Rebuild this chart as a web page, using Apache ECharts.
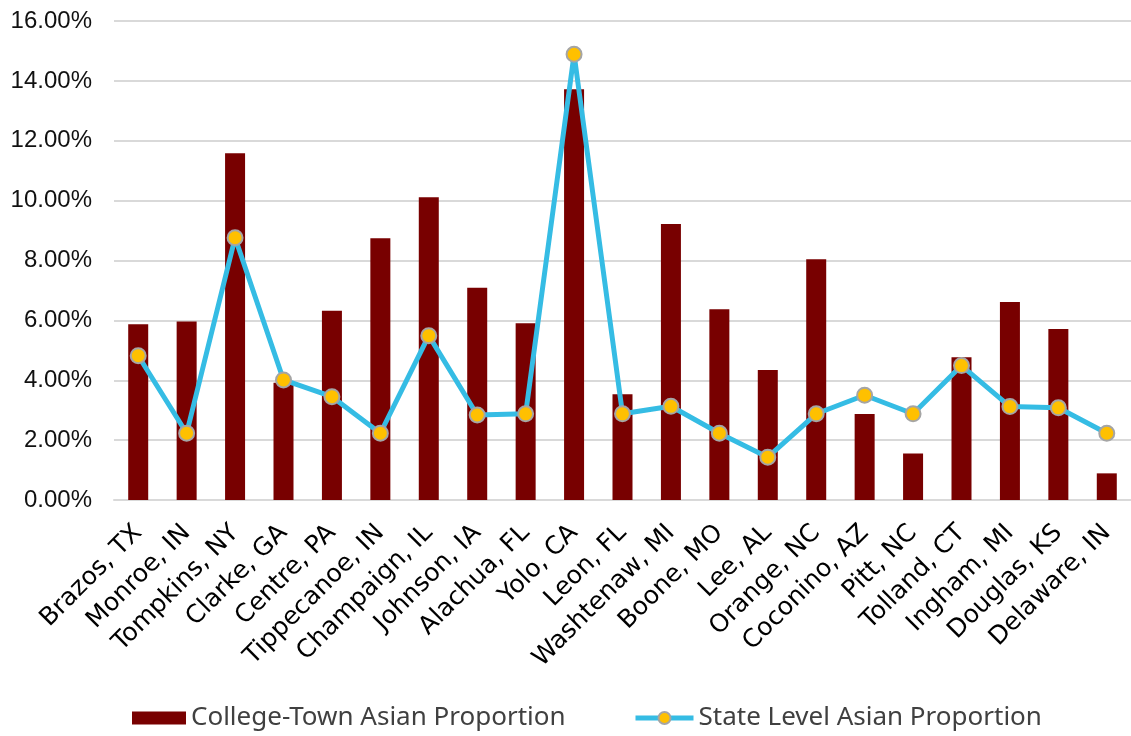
<!DOCTYPE html>
<html>
<head>
<meta charset="utf-8">
<script src="https://cdn.jsdelivr.net/npm/echarts@6/dist/echarts.min.js"></script>
<style>
html,body{margin:0;padding:0;background:#fff;}
#chart{width:1131px;height:736px;}
</style>
</head>
<body>
<div id="chart"></div>
<script>
const categories = ["Brazos, TX","Monroe, IN","Tompkins, NY","Clarke, GA","Centre, PA","Tippecanoe, IN","Champaign, IL","Johnson, IA","Alachua, FL","Yolo, CA","Leon, FL","Washtenaw, MI","Boone, MO","Lee, AL","Orange, NC","Coconino, AZ","Pitt, NC","Tolland, CT","Ingham, MI","Douglas, KS","Delaware, IN"];
const collegeTown = [5.87,5.96,11.58,3.92,6.32,8.74,10.11,7.09,5.90,13.72,3.53,9.22,6.37,4.34,8.04,2.87,1.55,4.77,6.61,5.71,0.89];
const stateLevel = [4.82,2.23,8.76,4.01,3.45,2.23,5.49,2.84,2.88,14.89,2.88,3.13,2.23,1.43,2.88,3.50,2.88,4.49,3.12,3.08,2.23];
const yTicks = {min:0, max:16, interval:2};
const seriesNames = ['College-Town Asian Proportion','State Level Asian Proportion'];

const legendText = {fontFamily:'Noto Sans', fontSize:26, color:'#404040'};
const chart = echarts.init(document.getElementById('chart'), null, {renderer:'canvas'});
chart.setOption({
  backgroundColor:'#fff',
  animation:false,
  grid:{left:114, top:21, width:1022, height:479, containLabel:false},
  legend:[
    {left:127, top:700, itemWidth:54, itemHeight:13, itemGap:5,
      textStyle:legendText,
      data:[{name:seriesNames[0], icon:'rect'}]},
    {left:628, top:700, itemWidth:58, itemHeight:15, itemGap:5,
      textStyle:legendText,
      data:[{name:seriesNames[1], lineStyle:{width:5, color:'#35bce4'}}]}
  ],
  xAxis:{
    type:'category', data:categories,
    axisLine:{show:true, lineStyle:{color:'#d9d9d9', width:2}},
    axisTick:{show:false},
    axisLabel:{interval:0, rotate:45, margin:29, fontFamily:'DejaVu Sans', fontSize:25, color:'#000'}
  },
  yAxis:{
    type:'value', min:yTicks.min, max:yTicks.max, interval:yTicks.interval,
    axisLine:{show:false}, axisTick:{show:false},
    splitLine:{lineStyle:{color:'#d9d9d9', width:2}},
    axisLabel:{margin:22, fontFamily:'Liberation Sans', fontSize:24, color:'#111',
      formatter:v=>v.toFixed(2)+'%'}
  },
  series:[
    {name:seriesNames[0], type:'bar', data:collegeTown, barWidth:20,
      itemStyle:{color:'#780000'}},
    {name:seriesNames[1], type:'line', data:stateLevel,
      symbol:'circle', symbolSize:15,
      lineStyle:{color:'#35bce4', width:5},
      itemStyle:{color:'#ffc000', borderColor:'#a5a5a5', borderWidth:2}}
  ]
});
</script>
</body>
</html>
